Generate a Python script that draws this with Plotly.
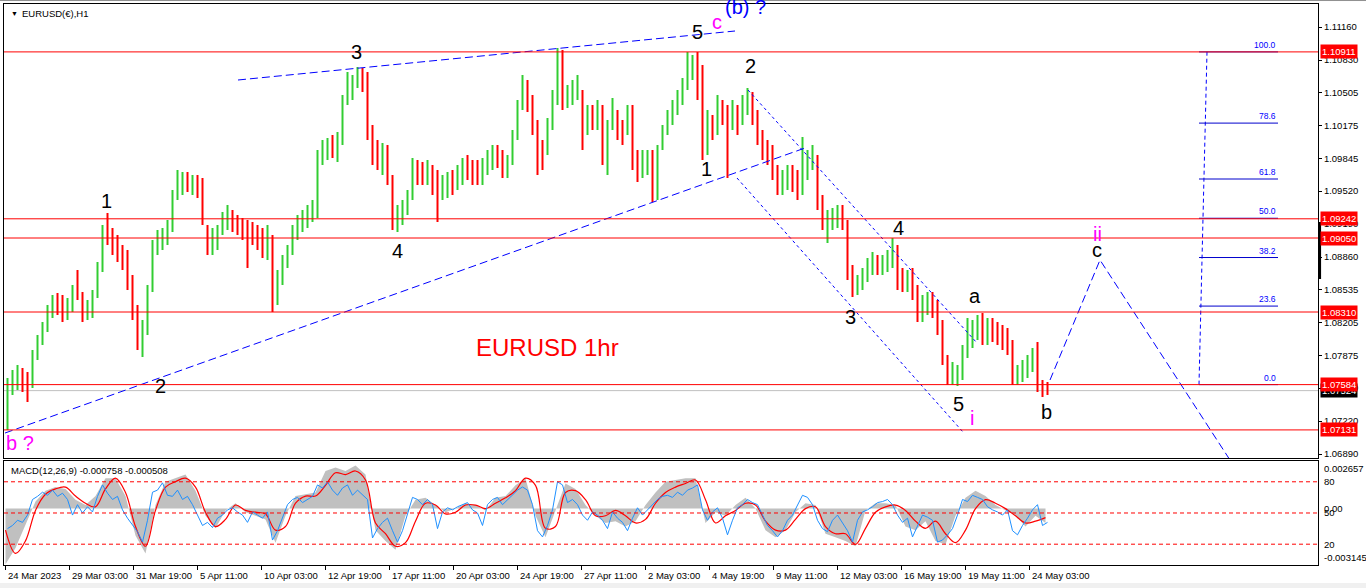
import plotly.graph_objects as go

# EURUSD H1, grouped 5 hourly bars per candle
candle_high = [
    1.0765, 1.0773, 1.0778, 1.0775, 1.0771, 1.0793, 1.0808, 1.0821, 1.0838, 1.0848,
    1.0850, 1.0848, 1.0845, 1.0858, 1.0873, 1.0851, 1.0843, 1.0853, 1.0881, 1.0918,
    1.0930, 1.0915, 1.0908, 1.0898, 1.0893, 1.0868, 1.0838, 1.0823, 1.0858, 1.0903,
    1.0913, 1.0915, 1.0923, 1.0953, 1.0973, 1.0971, 1.0971, 1.0968, 1.0968, 1.0965,
    1.0918, 1.0915, 1.0918, 1.0931, 1.0938, 1.0933, 1.0928, 1.0925, 1.0923, 1.0921,
    1.0918, 1.0915, 1.0918, 1.0908, 1.0873, 1.0888, 1.0898, 1.0918, 1.0928, 1.0933,
    1.0938, 1.0943, 1.0993, 1.1003, 1.1005, 1.1008, 1.1011, 1.1048, 1.1071, 1.1068,
    1.1076, 1.1075, 1.1071, 1.1018, 1.1003, 1.1000, 1.0998, 1.0968, 1.0938, 1.0943,
    1.0953, 1.0985, 1.0983, 1.0981, 1.0983, 1.0978, 1.0973, 1.0968, 1.0971, 1.0973,
    1.0978, 1.0985, 1.0988, 1.0983, 1.0983, 1.0985, 1.0993, 1.0998, 1.0998, 1.0993,
    1.0988, 1.1013, 1.1043, 1.1068, 1.1063, 1.1048, 1.1023, 1.1003, 1.1025, 1.1053,
    1.1095, 1.1093, 1.1058, 1.1063, 1.1068, 1.1053, 1.1038, 1.1038, 1.1043, 1.1038,
    1.1023, 1.1045, 1.1033, 1.1023, 1.1038, 1.1038, 1.0993, 1.0993, 1.0993, 1.0993,
    1.0998, 1.1018, 1.1033, 1.1043, 1.1053, 1.1065, 1.1091, 1.1088, 1.1091, 1.1078,
    1.1033, 1.1028, 1.1048, 1.1043, 1.1038, 1.1043, 1.1038, 1.1048, 1.1055, 1.1051,
    1.1033, 1.1013, 1.1003, 1.0998, 1.0978, 1.0973, 1.0978, 1.0978, 1.0973, 1.1006,
    1.0993, 1.0998, 1.0988, 1.0948, 1.0933, 1.0935, 1.0938, 1.0938, 1.0923, 1.0878,
    1.0868, 1.0875, 1.0885, 1.0891, 1.0888, 1.0888, 1.0893, 1.0905, 1.0898, 1.0875,
    1.0873, 1.0875, 1.0858, 1.0848, 1.0851, 1.0851, 1.0843, 1.0823, 1.0788, 1.0781,
    1.0778, 1.0798, 1.0825, 1.0823, 1.0828, 1.0830, 1.0825, 1.0825, 1.0821, 1.0818,
    1.0815, 1.0803, 1.0778, 1.0783, 1.0788, 1.0795, 1.0801, 1.0763, 1.0761,
]
candle_low = [
    1.0713, 1.0748, 1.0753, 1.0751, 1.0741, 1.0755, 1.0783, 1.0798, 1.0811, 1.0825,
    1.0828, 1.0821, 1.0823, 1.0831, 1.0843, 1.0821, 1.0823, 1.0825, 1.0845, 1.0871,
    1.0898, 1.0888, 1.0881, 1.0873, 1.0853, 1.0823, 1.0793, 1.0786, 1.0808, 1.0851,
    1.0888, 1.0893, 1.0898, 1.0911, 1.0943, 1.0948, 1.0951, 1.0948, 1.0945, 1.0918,
    1.0888, 1.0888, 1.0893, 1.0908, 1.0913, 1.0911, 1.0908, 1.0903, 1.0875, 1.0898,
    1.0893, 1.0885, 1.0883, 1.0831, 1.0838, 1.0858, 1.0875, 1.0888, 1.0903, 1.0911,
    1.0915, 1.0921, 1.0925, 1.0978, 1.0983, 1.0985, 1.0981, 1.0998, 1.1038, 1.1043,
    1.1055, 1.1051, 1.1003, 1.0978, 1.0973, 1.0968, 1.0958, 1.0913, 1.0911, 1.0918,
    1.0928, 1.0943, 1.0958, 1.0958, 1.0958, 1.0948, 1.0921, 1.0943, 1.0945, 1.0948,
    1.0953, 1.0958, 1.0963, 1.0958, 1.0958, 1.0958, 1.0968, 1.0973, 1.0975, 1.0965,
    1.0965, 1.0978, 1.1003, 1.1033, 1.1031, 1.1008, 1.0968, 1.0973, 1.0988, 1.1013,
    1.1038, 1.1033, 1.1035, 1.1038, 1.1043, 1.0993, 1.1008, 1.1013, 1.1013, 1.0978,
    1.0968, 1.1013, 1.1003, 1.0998, 1.1008, 1.0973, 1.0961, 1.0965, 1.0968, 1.0941,
    1.0943, 1.0993, 1.1008, 1.1018, 1.1028, 1.1038, 1.1053, 1.1063, 1.1043, 1.0983,
    1.0988, 1.1003, 1.1008, 1.1018, 1.0965, 1.1013, 1.1008, 1.1018, 1.1028, 1.1018,
    1.0998, 1.0983, 1.0978, 1.0963, 1.0948, 1.0948, 1.0953, 1.0951, 1.0943, 1.0948,
    1.0963, 1.0973, 1.0933, 1.0913, 1.0900, 1.0913, 1.0915, 1.0913, 1.0863, 1.0846,
    1.0848, 1.0853, 1.0861, 1.0868, 1.0868, 1.0868, 1.0871, 1.0875, 1.0853, 1.0851,
    1.0851, 1.0843, 1.0821, 1.0821, 1.0828, 1.0825, 1.0808, 1.0778, 1.0758, 1.0758,
    1.0757, 1.0763, 1.0785, 1.0795, 1.0803, 1.0798, 1.0798, 1.0801, 1.0798, 1.0793,
    1.0788, 1.0758, 1.0758, 1.0761, 1.0765, 1.0771, 1.0751, 1.0746, 1.0748,
]
candle_close = [
    1.0758, 1.0765, 1.0771, 1.0763, 1.0758, 1.0788, 1.0803, 1.0815, 1.0833, 1.0843,
    1.0838, 1.0831, 1.0838, 1.0853, 1.0848, 1.0828, 1.0838, 1.0848, 1.0875, 1.0911,
    1.0908, 1.0898, 1.0888, 1.0881, 1.0858, 1.0828, 1.0803, 1.0813, 1.0853, 1.0898,
    1.0905, 1.0908, 1.0915, 1.0948, 1.0963, 1.0965, 1.0958, 1.0961, 1.0953, 1.0923,
    1.0898, 1.0903, 1.0911, 1.0923, 1.0928, 1.0921, 1.0918, 1.0915, 1.0913, 1.0908,
    1.0903, 1.0898, 1.0903, 1.0843, 1.0863, 1.0881, 1.0893, 1.0911, 1.0921, 1.0928,
    1.0931, 1.0933, 1.0988, 1.0995, 1.0998, 1.0993, 1.1003, 1.1043, 1.1053, 1.1063,
    1.1068, 1.1063, 1.1013, 1.0993, 1.0988, 1.0993, 1.0963, 1.0923, 1.0931, 1.0938,
    1.0948, 1.0978, 1.0973, 1.0971, 1.0975, 1.0958, 1.0953, 1.0958, 1.0963, 1.0958,
    1.0971, 1.0978, 1.0975, 1.0971, 1.0968, 1.0978, 1.0988, 1.0991, 1.0985, 1.0975,
    1.0981, 1.1008, 1.1038, 1.1058, 1.1043, 1.1018, 1.0993, 1.0993, 1.1018, 1.1043,
    1.1063, 1.1043, 1.1048, 1.1055, 1.1058, 1.1028, 1.1031, 1.1025, 1.1033, 1.0993,
    1.1003, 1.1033, 1.1015, 1.1013, 1.1028, 1.0983, 1.0973, 1.0983, 1.0985, 1.0953,
    1.0993, 1.1013, 1.1028, 1.1035, 1.1045, 1.1058, 1.1073, 1.1083, 1.1053, 1.1003,
    1.1018, 1.1013, 1.1038, 1.1028, 1.1023, 1.1033, 1.1023, 1.1043, 1.1043, 1.1028,
    1.1008, 1.0993, 1.0988, 1.0971, 1.0958, 1.0965, 1.0968, 1.0958, 1.0953, 1.0978,
    1.0983, 1.0983, 1.0938, 1.0921, 1.0923, 1.0928, 1.0931, 1.0921, 1.0873, 1.0853,
    1.0861, 1.0868, 1.0878, 1.0881, 1.0875, 1.0881, 1.0885, 1.0898, 1.0863, 1.0863,
    1.0865, 1.0851, 1.0831, 1.0838, 1.0843, 1.0838, 1.0815, 1.0785, 1.0768, 1.0771,
    1.0773, 1.0791, 1.0813, 1.0813, 1.0821, 1.0813, 1.0815, 1.0813, 1.0808, 1.0803,
    1.0795, 1.0765, 1.0771, 1.0773, 1.0781, 1.0788, 1.0758, 1.0753, 1.0752,
]
first_open = 1.0720
candle_bar = list(range(2, 1045, 5))   # middle hour of each 5-hour group

# MACD(12,26,9): main (grey histogram) and signal (red), every 10 bars
macd_bar = list(range(0, 1041, 10))
macd_main = [
    -0.0031, -0.0022, -0.0009, 0.0004, 0.0010, 0.0012, 0.0011, 0.0005, 0.0002, 0.0007,
    0.0017, 0.0017, 0.0007, -0.0015, -0.0025, 0.0002, 0.0015, 0.0017, 0.0019, 0.0010,
    -0.0004, -0.0011, -0.0001, 0.0003, -0.0002, -0.0004, -0.0006, -0.0019, -0.0004, 0.0007,
    0.0008, 0.0009, 0.0021, 0.0023, 0.0021, 0.0024, 0.0019, -0.0012, -0.0018, -0.0023,
    -0.0004, 0.0005, 0.0006, 0.0002, -0.0002, 0.0000, 0.0003, 0.0002, -0.0001, 0.0006,
    0.0007, 0.0013, 0.0017, -0.0004, -0.0016, -0.0001, 0.0014, 0.0011, 0.0002, -0.0004,
    -0.0008, -0.0007, -0.0010, -0.0007, 0.0002, 0.0009, 0.0015, 0.0016, 0.0017, 0.0017,
    -0.0008, -0.0002, -0.0004, 0.0002, 0.0006, 0.0000, -0.0012, -0.0016, -0.0012, -0.0002,
    0.0003, 0.0002, -0.0014, -0.0016, -0.0018, -0.0021, -0.0001, 0.0003, 0.0003, 0.0002,
    -0.0010, -0.0012, -0.0007, -0.0018, -0.0020, -0.0004, 0.0006, 0.0010, 0.0007, 0.0002,
    -0.0001, -0.0004, -0.0010, -0.0004, -0.0008,
]
macd_signal = [
    -0.0012, -0.0025, -0.0018, -0.0001, 0.0008, 0.0011, 0.0012, 0.0007, 0.0003, 0.0001,
    0.0011, 0.0017, 0.0009, -0.0010, -0.0021, -0.0001, 0.0012, 0.0015, 0.0017, 0.0012,
    -0.0002, -0.0010, -0.0006, 0.0002, -0.0001, -0.0002, -0.0003, -0.0012, -0.0010, 0.0003,
    0.0007, 0.0007, 0.0013, 0.0020, 0.0019, 0.0021, 0.0016, -0.0008, -0.0014, -0.0021,
    -0.0019, -0.0007, 0.0003, 0.0002, -0.0003, -0.0002, 0.0002, 0.0002, 0.0000, 0.0003,
    0.0006, 0.0010, 0.0017, 0.0013, -0.0011, -0.0010, 0.0009, 0.0010, 0.0005, -0.0004,
    -0.0004, -0.0001, -0.0004, -0.0008, -0.0006, 0.0003, 0.0009, 0.0012, 0.0014, 0.0016,
    0.0005, -0.0008, -0.0004, -0.0001, 0.0003, 0.0002, -0.0007, -0.0012, -0.0012, -0.0006,
    0.0000, 0.0001, -0.0010, -0.0014, -0.0014, -0.0020, -0.0011, -0.0002, 0.0001, 0.0002,
    -0.0001, -0.0007, -0.0011, -0.0007, -0.0014, -0.0019, -0.0012, 0.0000, 0.0005, 0.0003,
    0.0000, -0.0004, -0.0008, -0.0007, -0.0005,
]
# blue oscillator drawn in the same window (0-100 scale, levels 80/50/20)
osc_value = [
    35, 38, 43, 41, 48, 63, 66, 70, 67, 72, 66, 69, 63, 48, 58, 50, 56, 51, 66, 77,
    69, 63, 66, 53, 45, 38, 32, 22, 43, 70, 72, 79, 67, 66, 72, 63, 66, 58, 48, 38,
    41, 36, 45, 48, 53, 55, 51, 48, 41, 51, 48, 45, 51, 24, 33, 45, 58, 63, 65, 60,
    63, 66, 77, 74, 80, 72, 67, 74, 77, 67, 72, 67, 63, 26, 35, 41, 45, 33, 22, 33,
    48, 65, 63, 58, 63, 58, 35, 51, 55, 53, 56, 58, 60, 53, 50, 38, 58, 63, 65, 58,
    63, 67, 72, 75, 72, 58, 33, 27, 38, 53, 80, 77, 60, 63, 58, 48, 43, 51, 48, 43,
    35, 51, 45, 41, 33, 45, 55, 48, 53, 58, 63, 66, 67, 65, 70, 67, 72, 74, 77, 53,
    43, 51, 55, 45, 29, 43, 55, 58, 63, 60, 58, 48, 38, 33, 27, 33, 43, 48, 58, 67,
    65, 58, 43, 35, 32, 43, 48, 41, 33, 22, 43, 51, 53, 56, 60, 61, 63, 58, 48, 41,
    45, 27, 38, 48, 46, 43, 22, 24, 29, 35, 48, 63, 61, 67, 65, 63, 56, 53, 51, 48,
    53, 33, 29, 38, 45, 53, 58, 38, 41,
]
osc_levels = [80, 50, 20]

# horizontal levels drawn on the chart
level_prices = [1.10911, 1.09242, 1.09050, 1.08310, 1.07584, 1.07131]
bid_price = 1.07524

price_ticks = [1.11160, 1.10830, 1.10505, 1.10175, 1.09845, 1.09520, 1.09190,
               1.08860, 1.08535, 1.08205, 1.07875, 1.07550, 1.07220, 1.06890]

date_labels = ["24 Mar 2023", "29 Mar 03:00", "31 Mar 19:00", "5 Apr 11:00",
               "10 Apr 03:00", "12 Apr 19:00", "17 Apr 11:00", "20 Apr 03:00",
               "24 Apr 19:00", "27 Apr 11:00", "2 May 03:00", "4 May 19:00",
               "9 May 11:00", "12 May 03:00", "16 May 19:00", "19 May 11:00",
               "24 May 03:00"]
date_bars = list(range(0, 1025, 64))

# fibonacci retracement of the last swing
fib_levels = [0.0, 23.6, 38.2, 50.0, 61.8, 78.6, 100.0]
fib_low = 1.07584
fib_high = 1.10911
fib_span = [1193.5, 1272.5]
fib_stem = [1193.5, 1201.5]

# drawn trend lines: (bars, prices, dash)
trend_lines = [
    ([232.5, 729.5], [1.1063, 1.1112], "8px,4px"),
    ([-0.5, 799.5], [1.0710, 1.0995], "8px,4px"),
    ([742.5, 971.5], [1.1053, 1.0800], "3px,3px"),
    ([731.5, 957.5], [1.0965, 1.0711], "3px,3px"),
    ([1044.5, 1094.5, 1224.5], [1.0763, 1.0883, 1.0683], "8px,4px"),
]

# wave counts: (text, bar, price, colour)
wave_labels = [
    ("1", 100.5, 1.0942, "black"), ("2", 154.5, 1.0757, "black"),
    ("3", 350.5, 1.1091, "black"), ("4", 391.5, 1.0892, "black"),
    ("5", 691.5, 1.1111, "black"), ("c", 711.5, 1.1121, "#ff00ff"),
    ("(b) ?", 739.5, 1.1136, "#0000ff"),
    ("1", 700.5, 1.0974, "black"), ("2", 744.5, 1.1077, "black"),
    ("3", 844.5, 1.0826, "black"), ("4", 892.5, 1.0915, "black"),
    ("5", 952.5, 1.0739, "black"), ("i", 966.5, 1.0725, "#ff00ff"),
    ("a", 969.5, 1.0847, "black"), ("b", 1040.5, 1.0731, "black"),
    ("ii", 1091.5, 1.0909, "#ff00ff"), ("c", 1091.5, 1.0893, "black"),
    ("b ?", 14.5, 1.0700, "#ff00ff"),
]

FONT = "Liberation Sans, Arial, sans-serif"
opens = [first_open] + candle_close[:-1]

fig = go.Figure()

fig.add_trace(go.Ohlc(
    x=candle_bar, open=opens, high=candle_high, low=candle_low, close=candle_close,
    increasing=dict(line=dict(color="#32cd32", width=2)),
    decreasing=dict(line=dict(color="#ff0000", width=2)),
    tickwidth=0, xaxis="x", yaxis="y", hoverinfo="skip", showlegend=False,
))

for bars, prices, dash in trend_lines:
    fig.add_trace(go.Scatter(x=bars, y=prices, mode="lines", xaxis="x", yaxis="y",
                             line=dict(color="#0000ff", width=1, dash=dash),
                             hoverinfo="skip", showlegend=False))

# fibonacci stem and levels
fig.add_trace(go.Scatter(x=fib_stem, y=[fib_low, fib_high], mode="lines",
                         xaxis="x", yaxis="y",
                         line=dict(color="#0000ff", width=1, dash="4px,3px"),
                         hoverinfo="skip", showlegend=False))
for lvl in fib_levels:
    p = fib_low + (fib_high - fib_low) * lvl / 100
    fig.add_trace(go.Scatter(x=fib_span, y=[p, p], mode="lines", xaxis="x", yaxis="y",
                             line=dict(color="#0000cd", width=1),
                             hoverinfo="skip", showlegend=False))

# MACD window
fig.add_trace(go.Scatter(x=macd_bar, y=macd_main, mode="lines", fill="tozeroy",
                         fillcolor="#c0c0c0", line=dict(width=0, color="#c0c0c0"),
                         xaxis="x2", yaxis="y2", hoverinfo="skip", showlegend=False))
fig.add_trace(go.Scatter(x=macd_bar, y=macd_signal, mode="lines", line_shape="spline",
                         line=dict(color="#ff0000", width=1.2),
                         xaxis="x2", yaxis="y2", hoverinfo="skip", showlegend=False))
fig.add_trace(go.Scatter(x=candle_bar, y=osc_value, mode="lines",
                         line=dict(color="#1e90ff", width=1),
                         xaxis="x2", yaxis="y3", hoverinfo="skip", showlegend=False))

shapes = []
for p in level_prices:
    shapes.append(dict(type="line", xref="paper", x0=0, x1=1, yref="y", y0=p, y1=p,
                       line=dict(color="#ff0000", width=1), layer="above"))
shapes.append(dict(type="line", xref="paper", x0=0, x1=1, yref="y", y0=bid_price,
                   y1=bid_price, line=dict(color="#c0c0c0", width=1), layer="below"))
for lvl in osc_levels:
    shapes.append(dict(type="line", xref="paper", x0=0, x1=1, yref="y3", y0=lvl, y1=lvl,
                       line=dict(color="#ff0000", width=1, dash="4px,3px")))
# scroll marker on price scale and window chrome
shapes.append(dict(type="line", xref="paper", x0=1.0012, x1=1.0012, yref="y",
                   y0=1.0864, y1=1.0921, line=dict(color="black", width=3)))
shapes.append(dict(type="rect", xref="paper", x0=-0.01, x1=1.04, yref="paper",
                   y0=-0.042, y1=-0.032, fillcolor="#f0f0f0", line=dict(width=0)))
shapes.append(dict(type="line", xref="paper", x0=-0.01, x1=1.04, yref="paper",
                   y0=1.0062, y1=1.0062, line=dict(color="#909090", width=1)))

ann = []
for text, b, p, col in wave_labels:
    ann.append(dict(x=b, y=p, xref="x", yref="y", text=text, showarrow=False,
                    font=dict(family=FONT, size=20, color=col)))
ann.append(dict(x=541.5, y=1.0796, xref="x", yref="y", text="EURUSD 1hr",
                showarrow=False, font=dict(family=FONT, size=24, color="#ff0000")))
ann.append(dict(x=0, y=1, xref="paper", yref="paper", xanchor="left", yanchor="top",
                xshift=5, yshift=-4, text="\u25bc", showarrow=False,
                font=dict(family=FONT, size=7, color="black")))
ann.append(dict(x=0, y=1, xref="paper", yref="paper", xanchor="left", yanchor="top",
                xshift=16, yshift=-2, text="EURUSD(\u20ac),H1", showarrow=False,
                font=dict(family=FONT, size=9.5, color="black")))
ann.append(dict(x=0, y=0.1854, xref="paper", yref="paper", xanchor="left",
                yanchor="top", xshift=5, yshift=-2,
                text="MACD(12,26,9) -0.000758 -0.000508", showarrow=False,
                font=dict(family=FONT, size=9.5, color="black")))

for lvl in fib_levels:
    p = fib_low + (fib_high - fib_low) * lvl / 100
    ann.append(dict(x=fib_span[1], y=p, xref="x", yref="y", xanchor="right",
                    yanchor="bottom", text="%.1f" % lvl, showarrow=False,
                    font=dict(family=FONT, size=8.5, color="#0000ff")))

# price tags on the right scale (bid first so the level tags sit on top of it)
ann.append(dict(x=1, y=bid_price, xref="paper", yref="y", xanchor="left", xshift=2,
                text="%.5f" % bid_price, showarrow=False, bgcolor="black", borderpad=1,
                font=dict(family=FONT, size=9.5, color="white")))
for p in level_prices:
    ann.append(dict(x=1, y=p, xref="paper", yref="y", xanchor="left", xshift=2,
                    text="%.5f" % p, showarrow=False, bgcolor="#ff0000", borderpad=1,
                    font=dict(family=FONT, size=9.5, color="white")))

# MACD window scale
macd_scale = [("0.002657", "y2", 0.002657, "top"), ("0.00", "y2", 0.0, "middle"),
              ("-0.003145", "y2", -0.003145, "bottom")]
for text, ref, v, anchor in macd_scale:
    ann.append(dict(x=1, y=v, xref="paper", yref=ref, xanchor="left", yanchor=anchor,
                    xshift=4, text=text, showarrow=False,
                    font=dict(family=FONT, size=9.5, color="black")))
for lvl in osc_levels:
    ann.append(dict(x=1, y=lvl, xref="paper", yref="y3", xanchor="left",
                    xshift=4, text=str(lvl), showarrow=False,
                    font=dict(family=FONT, size=9.5, color="black")))

for text, b in zip(date_labels, date_bars):
    ann.append(dict(x=b, y=0, xref="x2", yref="paper", xanchor="left", yanchor="top",
                    yshift=-3, text=text, showarrow=False,
                    font=dict(family=FONT, size=9.5, color="black")))

axis_common = dict(showgrid=False, zeroline=False, showline=True, linecolor="black",
                   linewidth=1, mirror=True)

fig.update_layout(
    width=1366, height=588,
    margin=dict(l=4, r=48, t=4, b=23),
    paper_bgcolor="white", plot_bgcolor="white",
    font=dict(family=FONT, size=9.5, color="black"),
    showlegend=False,
    xaxis=dict(domain=[0, 1], range=[-1.5, 1312.5], anchor="y", showticklabels=False,
               ticks="", rangeslider=dict(visible=False), **axis_common),
    yaxis=dict(domain=[0.1907, 1], range=[1.0685, 1.1139], anchor="x", side="right",
               tickmode="array", tickvals=price_ticks,
               ticktext=["%.5f" % t for t in price_ticks],
               ticks="outside", ticklen=3, tickcolor="black",
               tickfont=dict(family=FONT, size=9.5), **axis_common),
    xaxis2=dict(domain=[0, 1], range=[-1.5, 1312.5], anchor="y2", showticklabels=False,
                tickmode="array", tickvals=date_bars, ticks="outside", ticklen=4,
                tickcolor="black", **axis_common),
    yaxis2=dict(domain=[0, 0.1854], range=[-0.003145, 0.002657], anchor="x2",
                showticklabels=False, ticks="", **axis_common),
    yaxis3=dict(range=[0, 100], overlaying="y2", anchor="x2", side="right",
                showticklabels=False, showgrid=False, zeroline=False, showline=False),
    shapes=shapes,
    annotations=ann,
)

fig.write_html("out.html", config={"displayModeBar": False},
               post_script="document.body.style.margin='0';")
